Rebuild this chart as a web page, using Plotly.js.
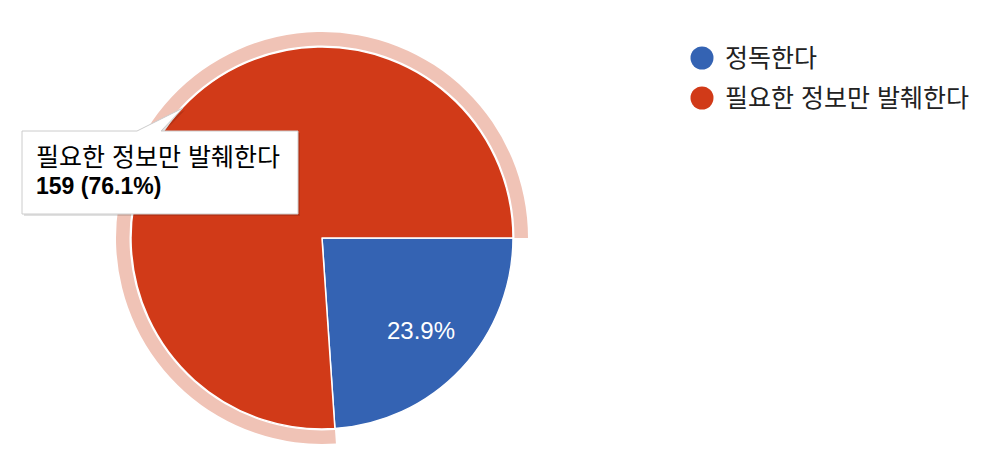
<!DOCTYPE html>
<html>
<head>
<meta charset="utf-8">
<script src="https://cdn.plot.ly/plotly-3.0.1.min.js"></script>
<style>html,body{margin:0;padding:0;background:#fff;}#chart{width:1000px;height:466px;}</style>
</head>
<body>
<div id="chart"></div>
<script>
// ---- data ----
const labels = ['정독한다', '필요한 정보만 발췌한다'];
const values = [50, 159];
const colors = ['#3463b3', '#d13a18'];
const ringColors = ['rgba(0,0,0,0)', '#f0c3b6'];
const highlightIndex = 1;

// ---- layout helpers (pixel -> paper) ----
const W = 1000, H = 466;
const px = x => x / W;
const py = y => 1 - y / H;
const FONT = 'Liberation Sans, Arial, "Noto Sans CJK KR", sans-serif';

const cx = 322, cy = 238, R = 191, Rin = 192.5, Rout = 206;
const total = values.reduce((a, b) => a + b, 0);
const startDeg = 90; // first slice starts at 3 o'clock, clockwise

const pieMain = {
  type: 'pie',
  labels: labels,
  values: values,
  sort: false,
  direction: 'clockwise',
  rotation: startDeg,
  marker: {colors: colors, line: {color: '#ffffff', width: 1.5}},
  textinfo: 'none',
  hoverinfo: 'none',
  showlegend: false,
  domain: {x: [px(cx - R), px(cx + R)], y: [py(cy + R), py(cy - R)]}
};

const pieRing = {
  type: 'pie',
  labels: labels,
  values: values,
  sort: false,
  direction: 'clockwise',
  rotation: startDeg,
  hole: Rin / Rout,
  marker: {colors: ringColors, line: {color: 'rgba(0,0,0,0)', width: 0}},
  textinfo: 'none',
  hoverinfo: 'none',
  showlegend: false,
  domain: {x: [px(cx - Rout), px(cx + Rout)], y: [py(cy + Rout), py(cy - Rout)]}
};

const shapes = [];
const annotations = [];

// ---- slice percentage labels (positioned from the slice angles) ----
let acc = 0;
values.forEach((v, i) => {
  const a0 = startDeg + acc / total * 360;
  acc += v;
  const a1 = startDeg + acc / total * 360;
  if (i === highlightIndex) return; // hidden beneath the tooltip
  const mid = (a0 + a1) / 2 * Math.PI / 180;
  const r = 0.71 * R;
  annotations.push({xref: 'paper', yref: 'paper',
    x: px(cx + r * Math.sin(mid)), y: py(cy - r * Math.cos(mid)),
    xanchor: 'center', yanchor: 'middle', showarrow: false,
    text: (v / total * 100).toFixed(1) + '%',
    font: {family: FONT, size: 24, color: '#ffffff'}});
});

// ---- custom legend (circles + text) ----
const legX = 702, legY0 = 58, legDy = 40, legR = 11.5;
labels.forEach((l, i) => {
  const y = legY0 + i * legDy;
  shapes.push({type: 'circle', xref: 'paper', yref: 'paper',
    x0: px(legX - legR), x1: px(legX + legR), y0: py(y + legR), y1: py(y - legR),
    fillcolor: colors[i], line: {width: 0}});
  annotations.push({xref: 'paper', yref: 'paper', x: px(723), y: py(y),
    xanchor: 'left', yanchor: 'middle', showarrow: false, text: l,
    font: {family: FONT, size: 25, color: '#222222'}});
});

// ---- tooltip ----
const tb = {l: 22, t: 131, r: 298, b: 214};
const ptr = {x1: 137, x2: 161, ax: 183, ay: 108};
function tipPath(dx, dy) {
  const P = (x, y) => px(x + dx) + ',' + py(y + dy);
  return 'M' + P(tb.l, tb.t) + ' L' + P(ptr.x1, tb.t) + ' L' + P(ptr.ax, ptr.ay) +
    ' L' + P(ptr.x2, tb.t) + ' L' + P(tb.r, tb.t) + ' L' + P(tb.r, tb.b) +
    ' L' + P(tb.l, tb.b) + ' Z';
}
shapes.push({type: 'path', xref: 'paper', yref: 'paper', path: tipPath(2, 2),
  fillcolor: 'rgba(0,0,0,0.12)', line: {width: 0}});
shapes.push({type: 'path', xref: 'paper', yref: 'paper', path: tipPath(0, 0),
  fillcolor: '#ffffff', line: {color: '#cccccc', width: 1}});

const hv = values[highlightIndex];
annotations.push({xref: 'paper', yref: 'paper', x: px(34), y: py(157),
  xanchor: 'left', yanchor: 'middle', showarrow: false, text: labels[highlightIndex],
  font: {family: FONT, size: 25, color: '#000000'}});
annotations.push({xref: 'paper', yref: 'paper', x: px(34), y: py(186),
  xanchor: 'left', yanchor: 'middle', showarrow: false,
  text: '<b>' + hv + ' (' + (hv / total * 100).toFixed(1) + '%)</b>',
  font: {family: FONT, size: 23, color: '#000000'}});

const layout = {
  width: W, height: H,
  margin: {l: 0, r: 0, t: 0, b: 0},
  paper_bgcolor: '#ffffff',
  showlegend: false,
  shapes: shapes,
  annotations: annotations
};

Plotly.newPlot('chart', [pieRing, pieMain], layout, {displayModeBar: false, staticPlot: true});
</script>
</body>
</html>
